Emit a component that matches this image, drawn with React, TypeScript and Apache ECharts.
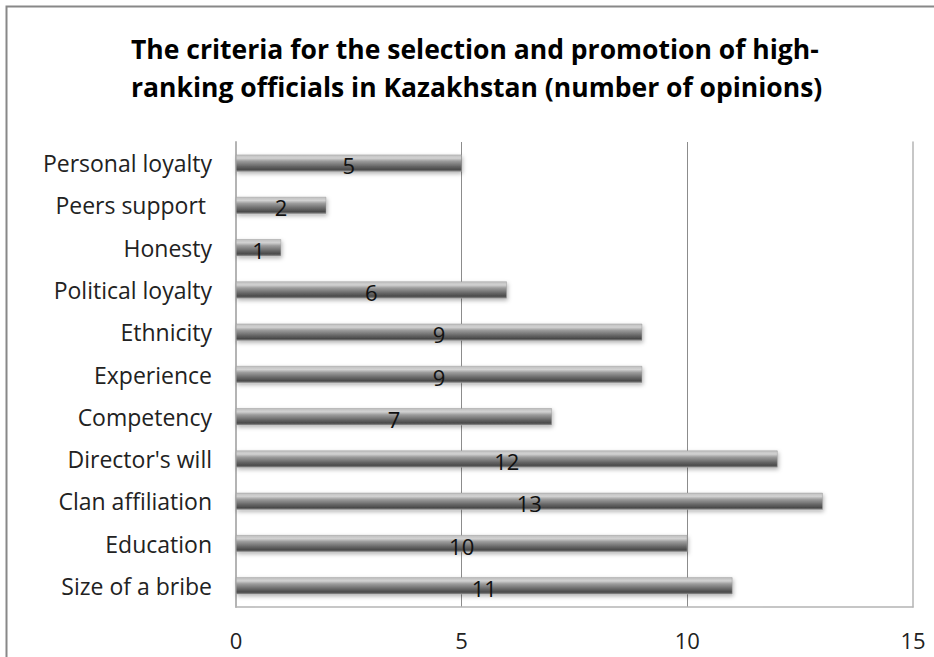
import React, { useEffect, useRef } from "react";
import * as echarts from "echarts";

const titleLines = [
  "The criteria for the selection and promotion of high-",
  "ranking officials in Kazakhstan (number of opinions)",
];
const categories = [
  "Personal loyalty",
  "Peers support ",
  "Honesty",
  "Political loyalty",
  "Ethnicity",
  "Experience",
  "Competency",
  "Director's will",
  "Clan affiliation",
  "Education",
  "Size of a bribe",
];
const values = [5, 2, 1, 6, 9, 9, 7, 12, 13, 10, 11];
const xTicks = [0, 5, 10, 15];

const FONT = "'Open Sans', Lato, sans-serif";
const BORDER = "#b4b4b4";

export default function App() {
  const ref = useRef<HTMLDivElement>(null);
  useEffect(() => {
    if (!ref.current) return;
    const chart = echarts.init(ref.current, null, { renderer: "svg" });
    chart.setOption({
      animation: false,
      backgroundColor: "#ffffff",
      title: {
        text: titleLines.join("\n"),
        left: 126,
        top: 25,
        textStyle: {
          fontFamily: FONT,
          fontWeight: "bold",
          fontSize: 26.5,
          lineHeight: 38,
          color: "#000",
        },
      },
      graphic: [
        {
          type: "rect",
          shape: { x: 6.5, y: 6.5, width: 1200, height: 1200 },
          style: { fill: "none", stroke: "#888", lineWidth: 2 },
          silent: true,
          z: 0,
        },
      ],
      grid: {
        left: 236,
        right: 21,
        top: 142,
        bottom: 50,
      },
      xAxis: {
        type: "value",
        min: xTicks[0],
        max: xTicks[xTicks.length - 1],
        interval: 5,
        axisLine: { show: true, lineStyle: { color: BORDER, width: 1.5 } },
        axisTick: { show: false },
        splitLine: {
          show: true,
          showMinLine: false,
          showMaxLine: false,
          lineStyle: { color: "#8c8c8c", width: 1 },
        },
        axisLabel: {
          fontFamily: FONT,
          fontSize: 22,
          color: "#222",
          margin: 22,
        },
      },
      yAxis: [
        {
          type: "category",
          data: categories,
          inverse: true,
          axisLine: { show: true, lineStyle: { color: BORDER, width: 2 } },
          axisTick: { show: false },
          axisLabel: {
            fontFamily: FONT,
            fontSize: 23,
            color: "#222",
            margin: 24,
          },
        },
        {
          type: "category",
          data: categories,
          inverse: true,
          position: "right",
          axisLine: { show: true, lineStyle: { color: BORDER, width: 1.5 } },
          axisTick: { show: false },
          axisLabel: { show: false },
          splitLine: { show: false },
        },
      ],
      series: [
        {
          type: "bar",
          data: values,
          barWidth: 17,
          itemStyle: {
            color: new echarts.graphic.LinearGradient(0, 0, 0, 1, [
              { offset: 0, color: "#c0c0c0" },
              { offset: 0.2, color: "#d2d2d2" },
              { offset: 0.38, color: "#9c9c9c" },
              { offset: 0.7, color: "#656565" },
              { offset: 0.88, color: "#4a4a4a" },
              { offset: 1, color: "#858585" },
            ]),
            borderColor: "#9a9a9a",
            borderWidth: 0.5,
            shadowBlur: 4,
            shadowColor: "rgba(0,0,0,0.3)",
            shadowOffsetX: 1,
            shadowOffsetY: 2,
          },
          label: {
            show: true,
            position: "inside",
            fontFamily: FONT,
            fontSize: 22,
            color: "#111",
            offset: [0, 2],
          },
        },
      ],
    });
    return () => chart.dispose();
  }, []);
  return (
    <div
      ref={ref}
      style={{ position: "absolute", left: 0, top: 0, width: 934, height: 657 }}
    />
  );
}
